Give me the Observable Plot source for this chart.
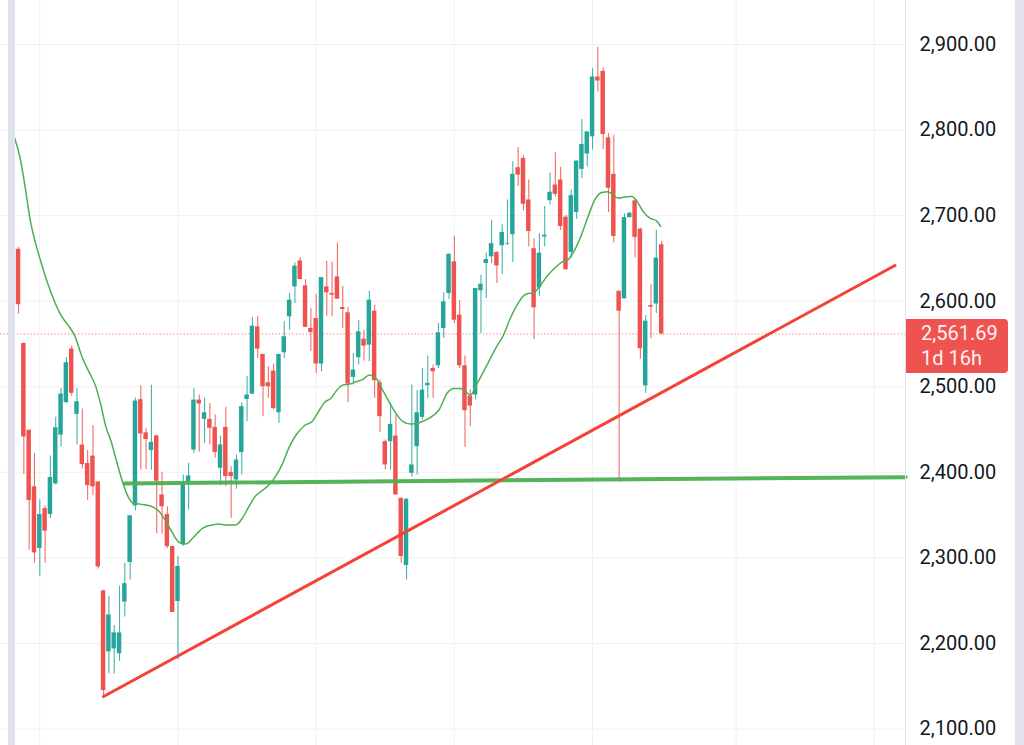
<!DOCTYPE html>
<html>
<head>
<meta charset="utf-8">
<script src="https://cdn.jsdelivr.net/npm/d3@7"></script>
<script src="https://cdn.jsdelivr.net/npm/@observablehq/plot@0.6"></script>
<style>
  html, body { margin: 0; padding: 0; background: #fff; }
  #wrap { position: relative; width: 1024px; height: 745px; overflow: hidden; font-family: Roboto, "Noto Sans", sans-serif; }
  #wrap svg { display: block; }
  .strip { position: absolute; top: 0; height: 745px; background: #e0e3eb; }
  #tag { position: absolute; background: #ef5350; color: #fff2f2; font-size: 20px; line-height: 25px; border-radius: 0 4px 4px 0; box-sizing: border-box; padding: 2px 0 0 15px; }
</style>
</head>
<body>
<div id="wrap"></div>
<script>
// ---- candle data (daily OHLC, index 1..123) ----
const open = [2661, 2660.6, 2550.5, 2449.1, 2383.1, 2311, 2357.6, 2350.7, 2386.5, 2443.5,
  2481.5, 2544.1, 2467.7, 2431.8, 2410.3, 2418.9, 2388.7, 2261.4, 2190.2, 2193.6,
  2188, 2248.4, 2294.6, 2360.6, 2484.9, 2446.1, 2425.4, 2442.6, 2373.6, 2350.7,
  2313.2, 2249, 2315.2, 2389.1, 2426.1, 2484.4, 2461.9, 2461.9, 2452.5, 2404.7,
  2452.5, 2399.6, 2391, 2423, 2485.2, 2491.4, 2570, 2537.7, 2504.7, 2518.3,
  2469.6, 2539.7, 2581.7, 2616.7, 2647.1, 2617.9, 2568.1, 2579.8, 2526.5, 2616.7,
  2608.9, 2628.4, 2592.6, 2586.4, 2510.9, 2533.9, 2555.6, 2548.6, 2588.3, 2504.7,
  2435.8, 2435.8, 2442.4, 2369.6, 2291.1, 2398.8, 2430, 2464.2, 2501.2, 2521.4,
  2524.5, 2568.1, 2608.9, 2645.9, 2583.7, 2524.5, 2489.1, 2490.3, 2612.1, 2644,
  2651.8, 2656.8, 2664.8, 2666.7, 2677.6, 2756, 2766.8, 2718.3, 2661.3, 2615.4,
  2675, 2717.5, 2735.8, 2741.6, 2698.1, 2657, 2703.6, 2754, 2771.9, 2792.1,
  2862, 2868.6, 2790.9, 2748.2, 2611.6, 2602.7, 2697.7, 2717.2, 2684.2, 2500.9,
  2594.9, 2596.7, 2665.9];
const high = [2672, 2662.7, 2551, 2450, 2421.9, 2368, 2360.5, 2418.9, 2464.2, 2497.9,
  2534.1, 2547.5, 2497.9, 2474.1, 2425.4, 2454.3, 2389, 2262, 2254.9, 2220.9,
  2267, 2293.7, 2349.2, 2486.8, 2500.9, 2451, 2501.8, 2443, 2400, 2359.6,
  2313.5, 2301.6, 2396.9, 2410.5, 2498, 2490.3, 2486.4, 2480.5, 2466.9, 2442.4,
  2475.9, 2406.6, 2420.2, 2481.3, 2511.7, 2580.9, 2582.5, 2538, 2523.3, 2526.5,
  2538, 2575.9, 2608.9, 2644.7, 2650.6, 2625.3, 2591.4, 2608.2, 2627.6, 2646.7,
  2645.9, 2668.1, 2617.5, 2592.6, 2538.9, 2577.8, 2566.1, 2611.7, 2595.3, 2507.8,
  2437.7, 2480.5, 2466.9, 2370, 2369.6, 2501.9, 2495.3, 2521.4, 2535.8, 2525.3,
  2573.9, 2609.7, 2654.9, 2675.9, 2600.4, 2535.8, 2496.1, 2614.8, 2630.4, 2656.4,
  2694.6, 2658, 2689.2, 2718.3, 2763, 2779.7, 2770, 2741.6, 2672.9, 2678.7,
  2710.6, 2749.4, 2773.4, 2756.4, 2700, 2730, 2763.7, 2812.3, 2797.8, 2871.7,
  2896.9, 2872.4, 2796, 2794, 2611.6, 2702, 2704, 2719.1, 2685.4, 2583.2,
  2619.3, 2682.9, 2669.8];
const low = [2658, 2585, 2397.3, 2308.8, 2293.7, 2278.6, 2293.7, 2346, 2385, 2429.7,
  2480, 2488.8, 2431.8, 2403.8, 2367.1, 2372.7, 2287, 2136.2, 2164.3, 2164.3,
  2179, 2231, 2274, 2355, 2402.5, 2403, 2402.5, 2328.3, 2328, 2311,
  2236, 2180.9, 2313.2, 2356, 2422.2, 2423.3, 2433.9, 2431.9, 2416.3, 2384.4,
  2383.3, 2346.3, 2380.2, 2396.9, 2459.1, 2491, 2533.1, 2465, 2486.4, 2472.8,
  2457.2, 2533.1, 2566.1, 2597.3, 2625, 2569.3, 2541.6, 2515.6, 2517.5, 2582.5,
  2581.7, 2602.3, 2568.1, 2481.3, 2501.9, 2525.3, 2530, 2529.2, 2486.4, 2446.3,
  2402.7, 2402.7, 2373.5, 2293.8, 2274.3, 2394.9, 2396.9, 2461, 2486.4, 2486.4,
  2521.4, 2556.4, 2602, 2573.9, 2521.4, 2429.2, 2453.3, 2484.4, 2562.3, 2603.1,
  2644, 2620.6, 2631, 2665, 2645.3, 2733.9, 2705.9, 2663.2, 2555.3, 2605.7,
  2663.6, 2712.5, 2722, 2682.7, 2636, 2650.4, 2695.8, 2743, 2757.1, 2776.6,
  2844.5, 2777.3, 2703.6, 2667.9, 2388.4, 2602.7, 2697, 2650.4, 2532, 2492.4,
  2556, 2585.6, 2560.7];
const close = [2671, 2595.9, 2441.3, 2367.1, 2305.8, 2350.7, 2331.3, 2393.9, 2452.1, 2491.4,
  2528.1, 2492.3, 2482.4, 2409, 2384.4, 2383.1, 2289.4, 2144.9, 2233.3, 2212.3,
  2212.3, 2269.9, 2349.2, 2483.3, 2444.8, 2438.3, 2434.9, 2389.6, 2359.7, 2313.2,
  2236.2, 2289.9, 2387.2, 2395.7, 2484.4, 2479.8, 2469.6, 2451.4, 2423.3, 2431.9,
  2394.9, 2394.9, 2414.4, 2476.7, 2490.3, 2570.8, 2544, 2500, 2500, 2474.7,
  2537.7, 2558.4, 2601.2, 2640.9, 2625.3, 2569.3, 2563.4, 2526.5, 2627.6, 2609.7,
  2607, 2602.3, 2590.3, 2503.1, 2519.5, 2564.2, 2547.5, 2601.2, 2507, 2465,
  2408.6, 2456, 2373.5, 2301.6, 2368.5, 2408.6, 2469.6, 2496.1, 2503.9, 2517.5,
  2563, 2599.2, 2654.9, 2577.8, 2524.5, 2472, 2477.4, 2614.8, 2619.8, 2648.6,
  2667.3, 2641.2, 2680.3, 2667.5, 2748.2, 2747.4, 2713.3, 2681.4, 2592.2, 2656.1,
  2677, 2727.3, 2724.9, 2687.3, 2636.8, 2723.4, 2763.7, 2783.2, 2797.8, 2862,
  2857.3, 2794.8, 2731.9, 2675.6, 2588.3, 2697.7, 2702.8, 2674.5, 2544.4, 2576.6,
  2593, 2650.4, 2561.69];

// ---- moving average (x in candle-index units) ----
const maIdx = [1.3, 2.25, 3.23, 4.19, 5.15, 6.13, 7.43, 8.73, 10.03, 11.31, 12.61, 13.91, 15.19, 16.49,
  17.47, 18.43, 19.41, 20.37, 21.35, 22.31, 23.61, 24.91, 26.85, 28.47, 29.75, 30.99, 32.25, 33.5,
  34.74, 36.6, 38.49, 39.73, 40.97, 42.86, 44.1, 45.34, 46.58, 47.83, 49.09, 50.33, 51.57, 52.82,
  54.08, 55.94, 57.19, 58.43, 59.69, 60.7, 61.8, 63.0, 64.3, 65.5, 66.8, 68.0, 69.3, 70.5, 71.7,
  73.0, 74.2, 75.8, 77.4, 79.2, 81.1, 82.7, 83.9, 85.2, 86.1, 87.0, 88.3, 89.8, 91.1, 92.3, 93.15,
  94.42, 95.68, 96.92, 97.86, 98.81, 100.07, 101.33, 102.9, 104.15, 105.4, 106.66, 107.92, 109.16,
  110.42, 111.69, 112.93, 113.87, 114.81, 115.76, 117.34, 118.28, 119.52, 120.78, 122.04, 122.79];
const maVal = [2790, 2768.5, 2734, 2695, 2669, 2647.6, 2621.8, 2600.2, 2583, 2572, 2559.2, 2535.4, 2518, 2501,
  2479.3, 2453.4, 2436.2, 2414.6, 2393, 2375.7, 2363.7, 2362.8, 2360.6, 2354.2, 2342.4, 2328.8, 2317.9, 2316.3,
  2322.9, 2334.6, 2338.5, 2339.7, 2338.5, 2338.5, 2346.3, 2359.9, 2372.4, 2378.6, 2385.2, 2395, 2408.6, 2428,
  2442.4, 2455.3, 2459.1, 2470.8, 2482.5, 2486, 2495.3, 2501.9, 2503.1, 2505.8, 2508.6, 2513.6, 2509.7, 2496.1, 2482.5,
  2468.9, 2459.9, 2456.4, 2458, 2463, 2472.8, 2493, 2498, 2498, 2494.2, 2490.3, 2503.9, 2521.4, 2537, 2550.6, 2559.2,
  2578.6, 2594.1, 2605.7, 2608.9, 2609.6, 2617.4, 2628.3, 2638.7, 2645.3, 2648.4, 2660, 2677.6, 2698.9,
  2718.3, 2726.9, 2728, 2724.1, 2720.3, 2721.4, 2722.2, 2717.5, 2704.7, 2697, 2693.9, 2687.3];

// ---- drawn trend lines ----
const trendIdx = [18, 166.9];
const trendPrice = [2138, 2641.7];
const supportIdx = [22, 168.9];
const supportPrice = [2387, 2394.3];

// ---- axes ----
const yTicks = [2100, 2200, 2300, 2400, 2500, 2600, 2700, 2800, 2900];
const xGridIdx = [6, 32, 58, 84, 110, 137, 163];
const xDomain = [-1.394, 168.88];
const yDomain = [2080.7, 2951.4];
const lastPrice = close[close.length - 1];
const countdown = "1d 16h";

const UP = "#26a69a", DOWN = "#ef5350";
const candles = open.map((o, k) => ({i: k + 1, o, h: high[k], l: low[k], c: close[k], col: close[k] >= o ? UP : DOWN}));
const ma = maIdx.map((x, k) => ({x, y: maVal[k]}));
const trend = trendIdx.map((x, k) => ({x, y: trendPrice[k]}));
const support = supportIdx.map((x, k) => ({x, y: supportPrice[k]}));

const plot = Plot.plot({
  width: 1024, height: 745,
  marginLeft: 0, marginRight: 119, marginTop: 0, marginBottom: 0,
  x: {domain: xDomain, axis: null},
  y: {domain: yDomain, axis: null},
  color: {type: "identity"},
  style: {fontFamily: "Roboto, 'Noto Sans', sans-serif", background: "#ffffff", overflow: "visible"},
  marks: [
    Plot.gridY(yTicks, {stroke: "#f0f1f4", strokeOpacity: 1, strokeWidth: 1}),
    Plot.gridX(xGridIdx, {stroke: "#f0f1f4", strokeOpacity: 1, strokeWidth: 1}),
    Plot.ruleY([lastPrice], {stroke: DOWN, strokeWidth: 1, strokeDasharray: "1.2,2.2", strokeOpacity: 0.8}),
    Plot.ruleX(candles, {x: "i", y1: "l", y2: "h", stroke: "col", strokeWidth: 1.1, strokeOpacity: 0.85}),
    Plot.rect(candles, {x1: d => d.i - 0.42, x2: d => d.i + 0.42, y1: "o", y2: "c", fill: "col"}),
    Plot.line(ma, {x: "x", y: "y", stroke: "#4caf50", strokeWidth: 1.5, curve: "monotone-x"}),
    Plot.line(support, {x: "x", y: "y", stroke: "#4caf50", strokeWidth: 4, strokeOpacity: 0.95}),
    Plot.line(trend, {x: "x", y: "y", stroke: "#f44336", strokeWidth: 3, strokeLinecap: "round"}),
    Plot.ruleX([xDomain[1]], {stroke: "#e0e3eb", strokeWidth: 1}),
    Plot.axisY(yTicks, {anchor: "right", tickSize: 0, tickPadding: 14, tickFormat: d3.format(",.2f"),
      fontSize: 20, color: "#131722", textAnchor: "start", label: null})
  ]
});

const wrap = document.getElementById("wrap");
wrap.appendChild(plot);

const ys = plot.scale("y");
const xs = plot.scale("x");
const yLast = ys.apply(lastPrice);
const xEdge = xs.apply(xDomain[1]);

const tag = document.createElement("div");
tag.id = "tag";
tag.style.left = (xEdge + 1) + "px";
tag.style.top = (yLast - 14) + "px";
tag.style.width = "102px";
tag.style.height = "54px";
tag.innerHTML = d3.format(",.2f")(lastPrice) + "<br>" + countdown;
wrap.appendChild(tag);

const left = document.createElement("div");
left.className = "strip"; left.style.left = "8px"; left.style.width = "7px";
wrap.appendChild(left);
const right = document.createElement("div");
right.className = "strip"; right.style.left = "1015px"; right.style.width = "9px";
wrap.appendChild(right);
</script>
</body>
</html>
